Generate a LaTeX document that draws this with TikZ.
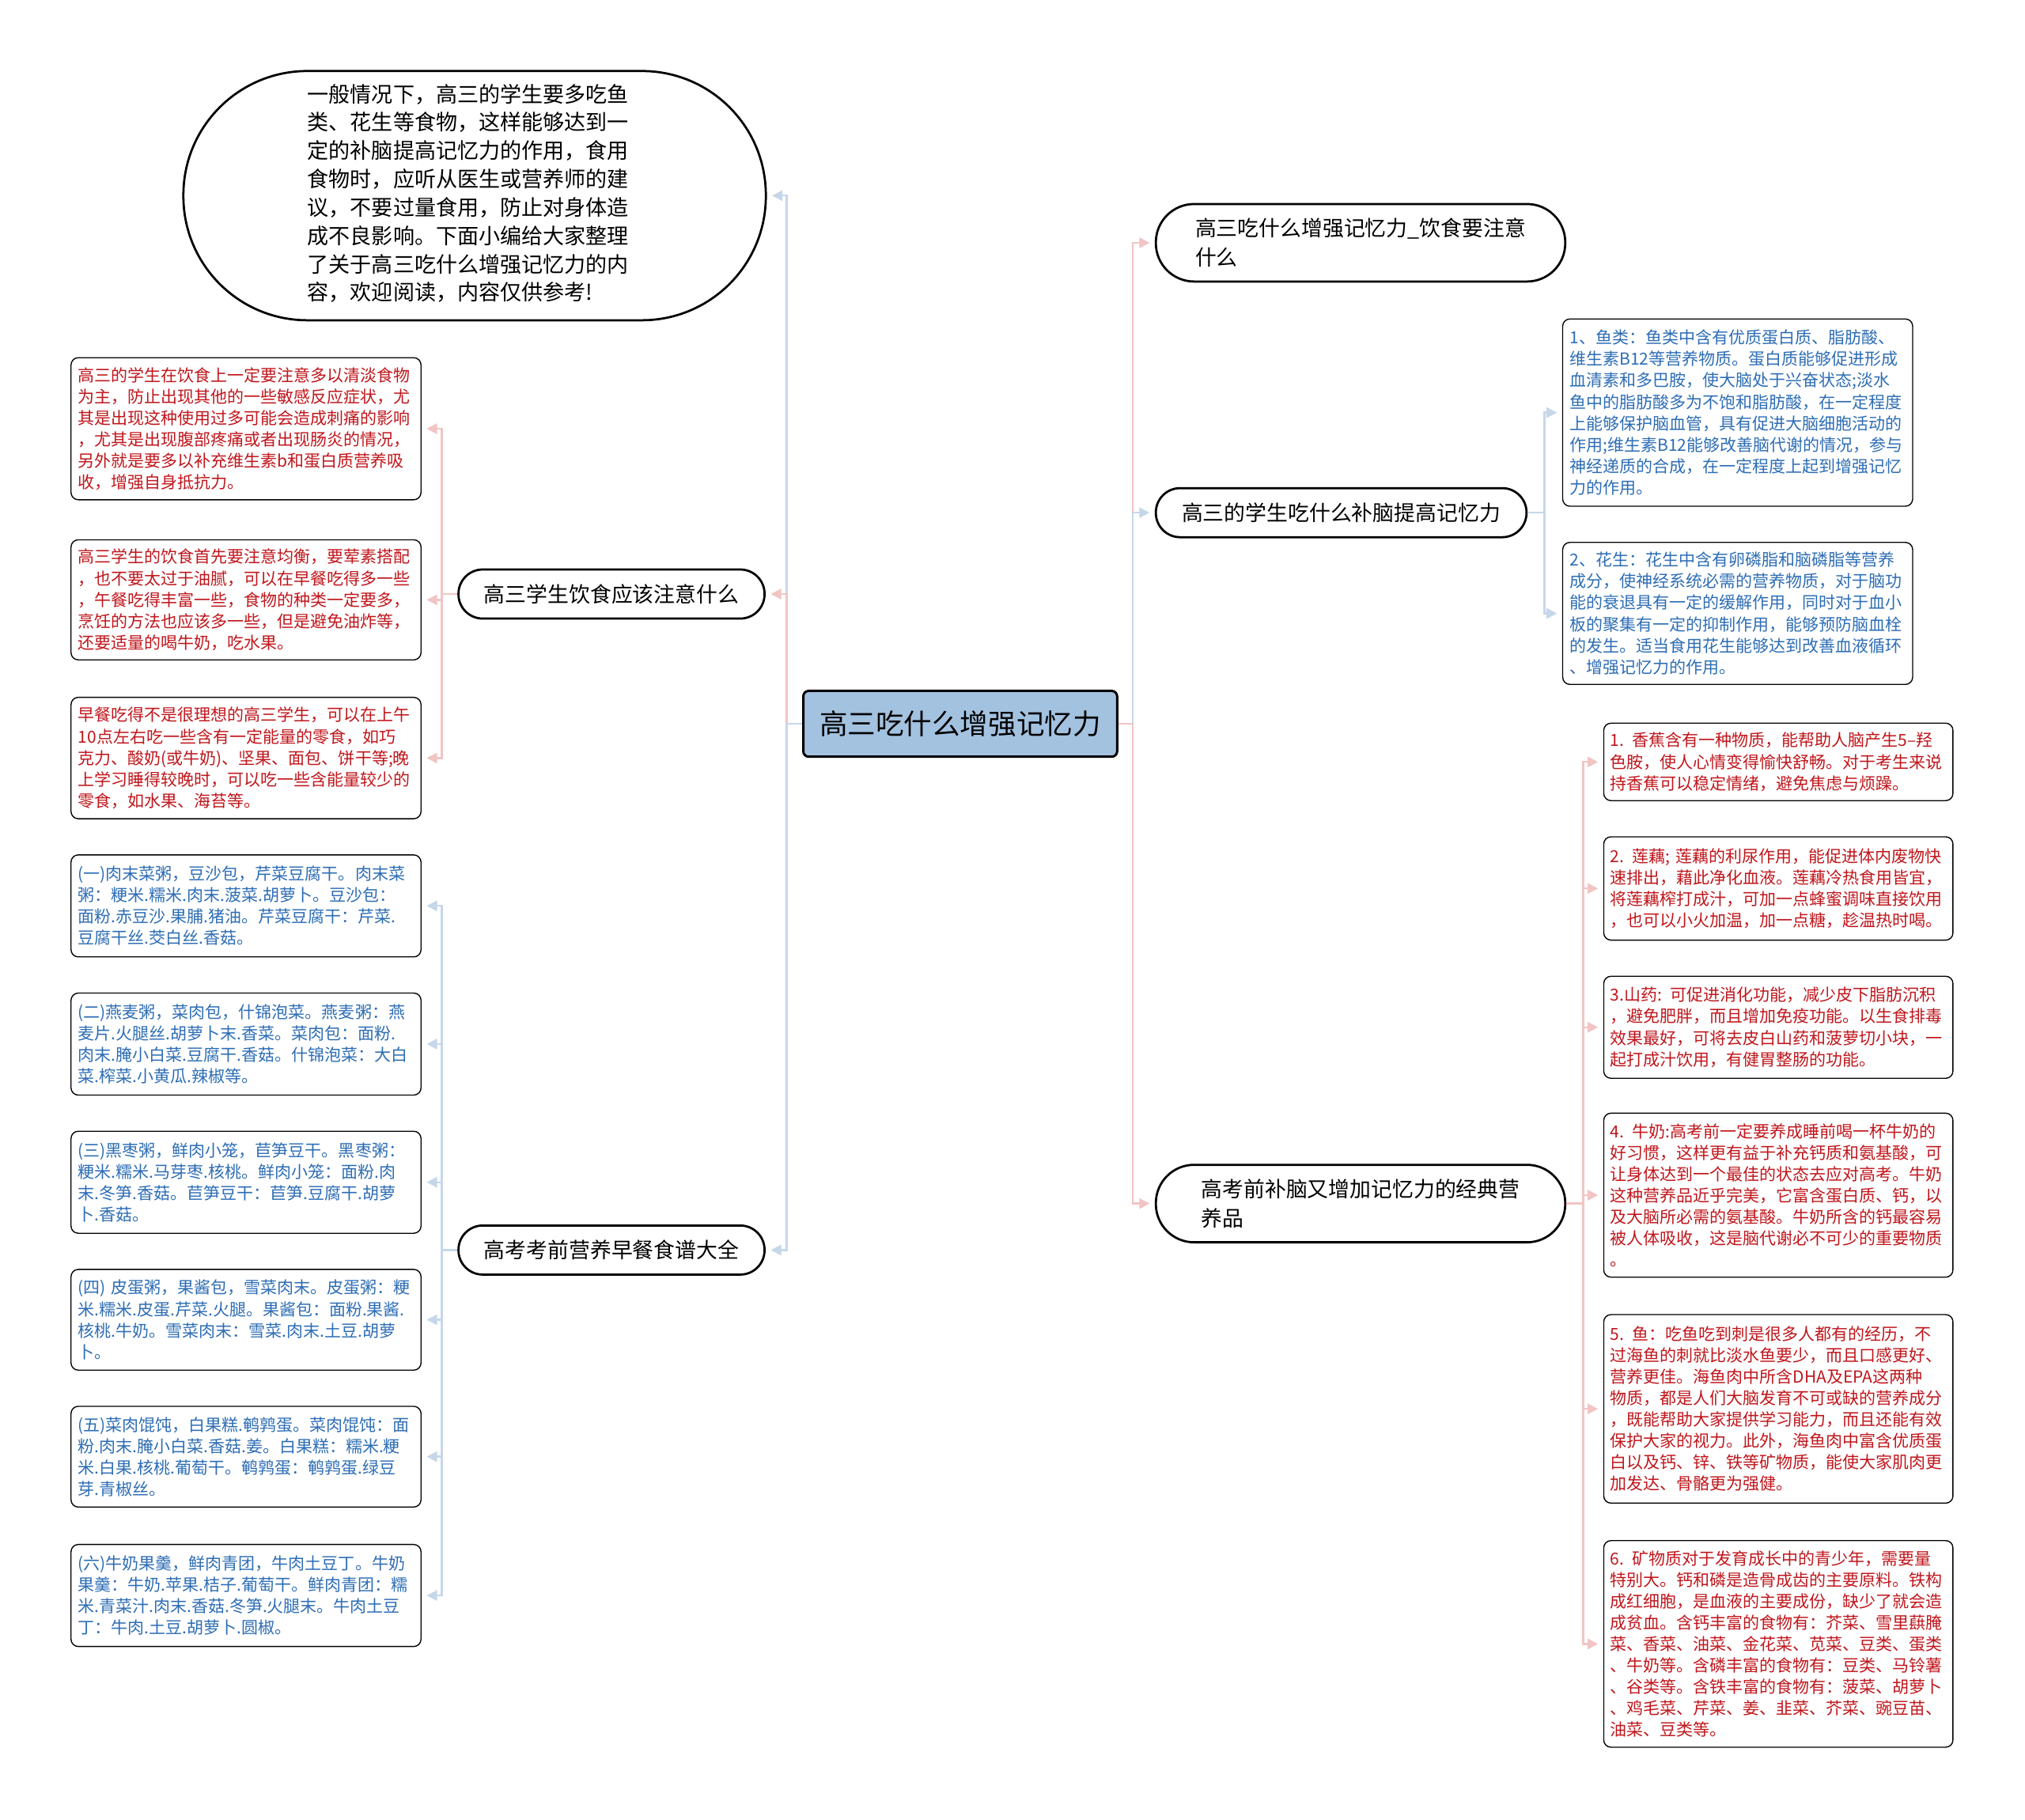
\documentclass[tikz,border=0pt]{standalone}
\usepackage{fontspec}
\setmainfont{Noto Sans CJK SC}
\usepackage{xcolor}
\definecolor{rootblue}{HTML}{A3C2E0}
\definecolor{txtred}{HTML}{C0161C}
\definecolor{txtblue}{HTML}{2D6DB5}
\definecolor{lnkred}{HTML}{F2C4C4}
\definecolor{lnkblue}{HTML}{C6D7EA}
\usepackage{tikz}
\usetikzlibrary{arrows.meta}
\setlength{\parindent}{0pt}

\begin{document}
\begin{tikzpicture}[
  x=0.25mm,y=-0.25mm,
  root/.style={draw,line width=1.3pt,rounded corners=3pt,fill=rootblue,minimum width=60.75mm,minimum height=12.75mm,font=\fontsize{15.5}{18}\selectfont},
  topic/.style={draw,line width=1.2pt,fill=white,align=left,font=\fontsize{11.7}{16.3}\selectfont},
  leaf/.style={draw,line width=0.6pt,rounded corners=4pt,fill=white,align=left,text width=65mm,inner xsep=1.3mm,inner ysep=1mm,font=\fontsize{9.15}{11.8}\selectfont},
  redleaf/.style={leaf,text=txtred},
  blueleaf/.style={leaf,text=txtblue},
  arrr/.style={-{Triangle[length=2mm,width=2mm]},line width=1pt,draw=lnkred,shorten >=1mm},
  arrb/.style={-{Triangle[length=2mm,width=2mm]},line width=1pt,draw=lnkblue,shorten >=1mm}]
\path[use as bounding box,fill=white] (0,0) rectangle (1568,1409);
% centre
\node[root] (root) at (743.5,560.5) {高三吃什么增强记忆力};
% left side
\node[topic,rounded corners=24mm,minimum width=112.75mm,minimum height=48.25mm,font=\fontsize{11.8}{15.6}\selectfont] (intro) at (367.5,151.5) {\hspace*{-1.25mm}\begin{tabular}{@{}l@{}}一般情况下，高三的学生要多吃鱼\\类、花生等食物，这样能够达到一\\定的补脑提高记忆力的作用，食用\\食物时，应听从医生或营养师的建\\议，不要过量食用，防止对身体造\\成不良影响。下面小编给大家整理\\了关于高三吃什么增强记忆力的内\\容，欢迎阅读，内容仅供参考!\end{tabular}\hspace*{1.25mm}};
\node[topic,rounded corners=4.7mm,minimum width=59.25mm,minimum height=9.5mm] (diet) at (473.5,460) {高三学生饮食应该注意什么};
\node[topic,rounded corners=4.7mm,minimum width=59.25mm,minimum height=9.5mm] (bfast) at (473.5,968) {高考考前营养早餐食谱大全};
\node[redleaf,minimum width=67.75mm,minimum height=27.5mm] (diet1) at (190.5,332) {高三的学生在饮食上一定要注意多以清淡食物\\为主，防止出现其他的一些敏感反应症状，尤\\其是出现这种使用过多可能会造成刺痛的影响\\，尤其是出现腹部疼痛或者出现肠炎的情况，\\另外就是要多以补充维生素b和蛋白质营养吸\\收，增强自身抵抗力。};
\node[redleaf,minimum width=67.75mm,minimum height=23.25mm] (diet2) at (190.5,464.5) {高三学生的饮食首先要注意均衡，要荤素搭配\\，也不要太过于油腻，可以在早餐吃得多一些\\，午餐吃得丰富一些，食物的种类一定要多，\\烹饪的方法也应该多一些，但是避免油炸等，\\还要适量的喝牛奶，吃水果。};
\node[redleaf,minimum width=67.75mm,minimum height=23.5mm] (diet3) at (190.5,587) {早餐吃得不是很理想的高三学生，可以在上午\\10点左右吃一些含有一定能量的零食，如巧\\克力、酸奶(或牛奶)、坚果、面包、饼干等;晚\\上学习睡得较晚时，可以吃一些含能量较少的\\零食，如水果、海苔等。};
\node[blueleaf,minimum width=67.75mm,minimum height=19.75mm] (bf1) at (190.5,701.5) {(一)肉末菜粥，豆沙包，芹菜豆腐干。肉末菜\\粥：粳米.糯米.肉末.菠菜.胡萝卜。豆沙包：\\面粉.赤豆沙.果脯.猪油。芹菜豆腐干：芹菜.\\豆腐干丝.茭白丝.香菇。};
\node[blueleaf,minimum width=67.75mm,minimum height=19.75mm] (bf2) at (190.5,808.5) {(二)燕麦粥，菜肉包，什锦泡菜。燕麦粥：燕\\麦片.火腿丝.胡萝卜末.香菜。菜肉包：面粉.\\肉末.腌小白菜.豆腐干.香菇。什锦泡菜：大白\\菜.榨菜.小黄瓜.辣椒等。};
\node[blueleaf,minimum width=67.75mm,minimum height=19.75mm] (bf3) at (190.5,915.5) {(三)黑枣粥，鲜肉小笼，苣笋豆干。黑枣粥：\\粳米.糯米.马芽枣.核桃。鲜肉小笼：面粉.肉\\末.冬笋.香菇。苣笋豆干：苣笋.豆腐干.胡萝\\卜.香菇。};
\node[blueleaf,minimum width=67.75mm,minimum height=19.5mm] (bf4) at (190.5,1022) {(四) 皮蛋粥，果酱包，雪菜肉末。皮蛋粥：粳\\米.糯米.皮蛋.芹菜.火腿。果酱包：面粉.果酱.\\核桃.牛奶。雪菜肉末：雪菜.肉末.土豆.胡萝\\卜。};
\node[blueleaf,minimum width=67.75mm,minimum height=19.5mm] (bf5) at (190.5,1128) {(五)菜肉馄饨，白果糕.鹌鹑蛋。菜肉馄饨：面\\粉.肉末.腌小白菜.香菇.姜。白果糕：糯米.粳\\米.白果.核桃.葡萄干。鹌鹑蛋：鹌鹑蛋.绿豆\\芽.青椒丝。};
\node[blueleaf,minimum width=67.75mm,minimum height=19.75mm] (bf6) at (190.5,1235.5) {(六)牛奶果羹，鲜肉青团，牛肉土豆丁。牛奶\\果羹：牛奶.苹果.桔子.葡萄干。鲜肉青团：糯\\米.青菜汁.肉末.香菇.冬笋.火腿末。牛肉土豆\\丁：牛肉.土豆.胡萝卜.圆椒。};
% right side
\node[topic,rounded corners=7.4mm,minimum width=79.25mm,minimum height=15mm] (memo) at (1053.5,188) {高三吃什么增强记忆力\_饮食要注意\\什么};
\node[topic,rounded corners=4.7mm,minimum width=71.75mm,minimum height=9.5mm] (brain) at (1038.5,397) {高三的学生吃什么补脑提高记忆力};
\node[topic,rounded corners=7.4mm,minimum width=79.25mm,minimum height=15mm] (exam) at (1053.5,932) {高考前补脑又增加记忆力的经典营\\养品};
\node[blueleaf,minimum width=67.75mm,minimum height=36.25mm] (brain1) at (1345.5,319.5) {1、鱼类：鱼类中含有优质蛋白质、脂肪酸、\\维生素B12等营养物质。蛋白质能够促进形成\\血清素和多巴胺，使大脑处于兴奋状态;淡水\\鱼中的脂肪酸多为不饱和脂肪酸，在一定程度\\上能够保护脑血管，具有促进大脑细胞活动的\\作用;维生素B12能够改善脑代谢的情况，参与\\神经递质的合成，在一定程度上起到增强记忆\\力的作用。};
\node[blueleaf,minimum width=67.75mm,minimum height=27.5mm] (brain2) at (1345.5,475) {2、花生：花生中含有卵磷脂和脑磷脂等营养\\成分，使神经系统必需的营养物质，对于脑功\\能的衰退具有一定的缓解作用，同时对于血小\\板的聚集有一定的抑制作用，能够预防脑血栓\\的发生。适当食用花生能够达到改善血液循环\\、增强记忆力的作用。};
\node[redleaf,minimum width=67.5mm,minimum height=15mm] (exam1) at (1377,590) {1. 香蕉含有一种物质，能帮助人脑产生5--羟\\色胺，使人心情变得愉快舒畅。对于考生来说\\持香蕉可以稳定情绪，避免焦虑与烦躁。};
\node[redleaf,minimum width=67.5mm,minimum height=20mm] (exam2) at (1377,688) {2. 莲藕; 莲藕的利尿作用，能促进体内废物快\\速排出，藉此净化血液。莲藕冷热食用皆宜，\\将莲藕榨打成汁，可加一点蜂蜜调味直接饮用\\，也可以小火加温，加一点糖，趁温热时喝。};
\node[redleaf,minimum width=67.5mm,minimum height=19.75mm] (exam3) at (1377,795.5) {3.山药: 可促进消化功能，减少皮下脂肪沉积\\，避免肥胖，而且增加免疫功能。以生食排毒\\效果最好，可将去皮白山药和菠萝切小块，一\\起打成汁饮用，有健胃整肠的功能。};
\node[redleaf,minimum width=67.5mm,minimum height=31.75mm] (exam4) at (1377,925.5) {4. 牛奶:高考前一定要养成睡前喝一杯牛奶的\\好习惯，这样更有益于补充钙质和氨基酸，可\\让身体达到一个最佳的状态去应对高考。牛奶\\这种营养品近乎完美，它富含蛋白质、钙，以\\及大脑所必需的氨基酸。牛奶所含的钙最容易\\被人体吸收，这是脑代谢必不可少的重要物质\\。};
\node[redleaf,minimum width=67.5mm,minimum height=36.5mm] (exam5) at (1377,1091) {5. 鱼：吃鱼吃到刺是很多人都有的经历，不\\过海鱼的刺就比淡水鱼要少，而且口感更好、\\营养更佳。海鱼肉中所含DHA及EPA这两种\\物质，都是人们大脑发育不可或缺的营养成分\\，既能帮助大家提供学习能力，而且还能有效\\保护大家的视力。此外，海鱼肉中富含优质蛋\\白以及钙、锌、铁等矿物质，能使大家肌肉更\\加发达、骨骼更为强健。};
\node[redleaf,minimum width=67.5mm,minimum height=40mm] (exam6) at (1377,1273) {6. 矿物质对于发育成长中的青少年，需要量\\特别大。钙和磷是造骨成齿的主要原料。铁构\\成红细胞，是血液的主要成份，缺少了就会造\\成贫血。含钙丰富的食物有：芥菜、雪里蕻腌\\菜、香菜、油菜、金花菜、苋菜、豆类、蛋类\\、牛奶等。含磷丰富的食物有：豆类、马铃薯\\、谷类等。含铁丰富的食物有：菠菜、胡萝卜\\、鸡毛菜、芹菜、姜、韭菜、芥菜、豌豆苗、\\油菜、豆类等。};
% links
\draw[arrb] (root.west) -- ++(-12,0) |- (intro.east);
\draw[arrr] (root.west) -- ++(-12,0) |- (diet.east);
\draw[arrb] (root.west) -- ++(-12,0) |- (bfast.east);
\draw[arrr] (root.east) -- ++(11,0) |- (memo.west);
\draw[arrb] (root.east) -- ++(11,0) |- (brain.west);
\draw[arrr] (root.east) -- ++(11,0) |- (exam.west);
\draw[arrr] (diet.west) -- ++(-12,0) |- (diet1.east);
\draw[arrr] (diet.west) -- ++(-12,0) |- (diet2.east);
\draw[arrr] (diet.west) -- ++(-12,0) |- (diet3.east);
\draw[arrb] (bfast.west) -- ++(-12,0) |- (bf1.east);
\draw[arrb] (bfast.west) -- ++(-12,0) |- (bf2.east);
\draw[arrb] (bfast.west) -- ++(-12,0) |- (bf3.east);
\draw[arrb] (bfast.west) -- ++(-12,0) |- (bf4.east);
\draw[arrb] (bfast.west) -- ++(-12,0) |- (bf5.east);
\draw[arrb] (bfast.west) -- ++(-12,0) |- (bf6.east);
\draw[arrb] (brain.east) -- ++(13,0) |- (brain1.west);
\draw[arrb] (brain.east) -- ++(13,0) |- (brain2.west);
\draw[arrr] (exam.east) -- ++(13,0) |- (exam1.west);
\draw[arrr] (exam.east) -- ++(13,0) |- (exam2.west);
\draw[arrr] (exam.east) -- ++(13,0) |- (exam3.west);
\draw[arrr] (exam.east) -- ++(13,0) |- (exam4.west);
\draw[arrr] (exam.east) -- ++(13,0) |- (exam5.west);
\draw[arrr] (exam.east) -- ++(13,0) |- (exam6.west);
\end{tikzpicture}
\end{document}
